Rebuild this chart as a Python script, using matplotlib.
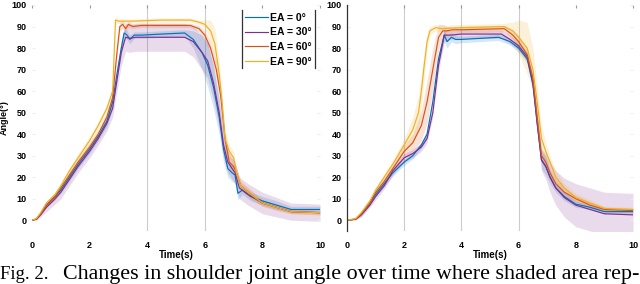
import matplotlib
matplotlib.use("Agg")
import matplotlib.pyplot as plt
import numpy as np

plt.rcParams['font.family'] = ['Liberation Sans', 'DejaVu Sans']

labels = ["EA = 0°", "EA = 30°", "EA = 60°", "EA = 90°"]
colors = ["#0072BD", "#7E2F8E", "#D95319", "#EDB120"]

# ---- left panel ----
l0_t = [0, 0.15, 0.3, 0.5, 0.8, 1.0, 1.3, 1.6, 2.0, 2.3, 2.6, 2.8, 2.95, 3.1, 3.2, 3.3, 3.4, 3.55, 3.8, 4.5, 5.3, 5.6, 5.9, 6.1, 6.3, 6.5, 6.65, 6.8, 6.95, 7.05, 7.15, 7.3, 7.6, 8.0, 8.5, 9.0, 10]
l0_v = [0, 0.5, 3, 7, 11, 14, 20, 26, 33, 39, 46, 55, 68, 80, 87, 86, 84, 86, 86, 86.5, 87, 84, 78, 72, 62, 48, 33, 24, 22, 21, 12.5, 14, 11, 9, 7, 5, 5]
l0_s = [0, 0.3, 0.5, 1, 1.5, 1.5, 2, 2, 2, 2, 2.5, 3, 3, 3, 2, 2, 2, 1.5, 1.5, 1.5, 1.5, 4, 8, 10, 10, 8, 6, 4, 4, 4, 3, 2, 2, 2, 2, 1.5, 1.5]

l1_t = [0, 0.15, 0.3, 0.5, 0.8, 1.0, 1.3, 1.6, 2.0, 2.3, 2.6, 2.8, 2.95, 3.1, 3.25, 3.4, 3.6, 4.5, 5.3, 5.6, 5.9, 6.1, 6.3, 6.5, 6.65, 6.8, 6.95, 7.05, 7.2, 7.5, 8.0, 8.5, 9.0, 10]
l1_v = [0, 0.5, 2.5, 6, 10, 13, 19, 25, 32, 38, 45, 52, 65, 78, 85, 84.5, 85, 85, 85, 83, 78, 74, 64, 50, 35, 27, 24, 22, 15, 12, 8, 6, 4, 3.5]
l1_s = [0, 0.5, 1, 2, 2.5, 3, 3, 3, 3, 3, 3.5, 4, 5, 6, 6.5, 6.5, 6.5, 6.5, 6.5, 7, 8, 8, 8, 7, 6, 5, 5, 5, 5, 5, 5, 4.5, 4, 4]

l2_t = [0, 0.15, 0.3, 0.5, 0.8, 1.0, 1.3, 1.6, 2.0, 2.3, 2.6, 2.8, 2.95, 3.05, 3.15, 3.25, 3.35, 3.5, 3.8, 4.5, 5.5, 5.8, 6.0, 6.2, 6.4, 6.55, 6.7, 6.85, 7.0, 7.1, 7.25, 7.6, 8.0, 8.5, 9.0, 10]
l2_v = [0, 0.5, 3, 7, 11, 15, 21, 27, 34, 40, 48, 57, 78, 90, 91, 89, 91, 90, 90.5, 90.5, 90.5, 89, 86, 80, 70, 58, 38, 27, 25, 22, 16, 12, 8, 6, 4, 3.5]
l2_s = [0, 0.3, 0.5, 1, 1.5, 1.5, 2, 2, 2, 2, 2, 2, 2, 2, 2, 2, 1.5, 1, 1, 1, 1, 1.5, 2, 3, 4, 4, 4, 3, 3, 3, 2, 2, 1.5, 1.5, 1, 1]

l3_t = [0, 0.15, 0.3, 0.5, 0.8, 1.0, 1.3, 1.6, 2.0, 2.3, 2.6, 2.8, 2.9, 3.0, 3.5, 4.5, 5.5, 5.8, 6.0, 6.2, 6.35, 6.5, 6.6, 6.7, 6.85, 7.0, 7.1, 7.25, 7.6, 8.0, 8.5, 9.0, 10]
l3_v = [0, 0.8, 3.5, 8, 12, 16, 23, 29, 37, 44, 52, 60, 93, 92.5, 92.5, 93, 93, 92, 91, 88, 82, 68, 55, 38, 32, 29, 22, 16, 12, 8, 6, 4, 3.5]
l3_s = [0, 0.5, 0.5, 1, 1, 1.5, 1.5, 2, 2, 2, 2, 2, 2, 1, 1, 1, 1, 1, 2, 5, 7, 6, 4, 3, 3, 3, 2, 2, 2, 1.5, 1, 1, 1]

# ---- right panel ----
r0_t = [0, 0.3, 0.5, 0.8, 1.0, 1.3, 1.6, 2.0, 2.3, 2.6, 2.8, 3.0, 3.2, 3.4, 3.5, 3.65, 3.8, 4.0, 5.3, 5.7, 6.0, 6.3, 6.5, 6.65, 6.8, 6.95, 7.1, 7.3, 7.6, 8.0, 8.5, 9.0, 10]
r0_v = [0, 0.5, 3, 8, 12, 17, 22, 27, 30, 35, 40, 55, 75, 86, 83, 85, 84, 84, 85, 83, 80, 75, 63, 45, 28, 25, 20, 15, 11, 7.5, 6, 4, 4]
r0_s = [0, 0.3, 1, 1, 1, 1.5, 1.5, 1.5, 1.5, 1.5, 2, 2, 3, 3, 3, 2, 2, 1.5, 1.5, 1.5, 2, 2, 3, 3, 4, 4, 3, 2, 2, 1.5, 1, 1, 1]

r1_t = [0, 0.3, 0.5, 0.8, 1.0, 1.3, 1.6, 2.0, 2.3, 2.6, 2.8, 3.0, 3.2, 3.4, 3.6, 4.0, 5.4, 5.7, 6.0, 6.3, 6.5, 6.65, 6.8, 6.95, 7.1, 7.3, 7.6, 8.0, 8.5, 9.0, 10]
r1_v = [0, 0.5, 2.5, 7, 11, 16, 23, 29, 31, 34, 38, 50, 72, 86, 86, 86.5, 86.5, 84, 81, 76, 64, 45, 28, 25, 20, 15, 10.5, 7, 5, 3, 2.5]
r1_s = [0, 0.3, 1, 1, 1.5, 1.5, 2, 2, 2, 2, 2, 2, 3, 3, 2, 2, 2, 2, 2, 2, 3, 4, 5, 6, 7, 8, 9, 10, 10, 10, 10]

r2_t = [0, 0.3, 0.5, 0.8, 1.0, 1.3, 1.6, 2.0, 2.3, 2.6, 2.8, 3.0, 3.2, 3.35, 3.5, 3.7, 4.0, 5.5, 5.8, 6.0, 6.3, 6.5, 6.65, 6.8, 6.95, 7.1, 7.3, 7.6, 8.0, 8.5, 9.0, 10]
r2_v = [0, 0.5, 3, 8, 13, 18, 24, 32, 36, 44, 55, 70, 85, 88, 88, 88.5, 88.5, 89, 86, 83, 77, 66, 48, 30, 27, 22, 17, 13, 10, 7, 5, 4.5]
r2_s = [0, 0.3, 1, 1, 1.5, 2, 2, 3, 4, 7, 10, 10, 6, 3, 2, 1.5, 1.5, 1.5, 2, 3, 3, 3, 3, 3, 3, 2, 2, 2, 1.5, 1.5, 1, 1]

r3_t = [0, 0.3, 0.5, 0.8, 1.0, 1.3, 1.6, 2.0, 2.3, 2.5, 2.6, 2.7, 2.8, 2.9, 3.1, 3.3, 4.0, 5.5, 5.8, 6.0, 6.3, 6.5, 6.65, 6.8, 6.95, 7.1, 7.3, 7.6, 8.0, 8.5, 9.0, 10]
r3_v = [0, 0.8, 3.5, 9, 14, 20, 26, 35, 42, 50, 60, 72, 83, 88, 89.5, 89, 89.5, 90, 88, 85, 80, 70, 55, 38, 32, 27, 20, 15, 10.5, 8, 5.5, 5]
r3_s = [0, 0.5, 1, 1, 1.5, 2, 2, 3, 6, 8, 8, 6, 4, 2, 1.5, 1.5, 1.5, 1.5, 4, 8, 12, 10, 8, 6, 4, 3, 3, 2, 2, 1.5, 1, 1]

left_series = [(l0_t, l0_v, l0_s), (l1_t, l1_v, l1_s), (l2_t, l2_v, l2_s), (l3_t, l3_v, l3_s)]
right_series = [(r0_t, r0_v, r0_s), (r1_t, r1_v, r1_s), (r2_t, r2_v, r2_s), (r3_t, r3_v, r3_s)]
left_vlines = [4, 6]
right_vlines = [2, 4, 6]

fig = plt.figure(figsize=(6.4, 2.84), dpi=100)
bottom = 1 - 231 / 284
height = 226 / 284
ax1 = fig.add_axes([32 / 640, bottom, 288 / 640, height])
ax2 = fig.add_axes([347 / 640, bottom, 286 / 640, height])


def draw(ax, series, vlines):
    for x in vlines:
        ax.axvline(x, color="#cccccc", lw=0.8, zorder=0)
    for (t, v, s), c, lab in zip(series, colors, labels):
        t = np.array(t)
        v = np.array(v)
        s = np.array(s)
        ax.fill_between(t, v - s, v + s, color=c, alpha=0.17, lw=0)
        ax.plot(t, v, color=c, lw=0.85, label=lab)
    ax.set_xlim(0, 10)
    ax.set_ylim(-5, 100)
    ax.set_xticks(range(0, 11, 2))
    ax.set_yticks(range(0, 101, 10))
    for sp in ax.spines.values():
        sp.set_visible(False)
    ax.tick_params(axis='x', bottom=False, top=True, direction='in', length=2.5,
                   color="#999999", labelsize=6.5, pad=7)
    ax.tick_params(axis='y', left=True, right=True, direction='in', length=2,
                   color="#eeeeee", labelsize=6.5, pad=4)
    for lb in ax.get_xticklabels() + ax.get_yticklabels():
        lb.set_fontweight('bold')
    ax.set_xlabel("Time(s)", fontsize=7, fontweight='bold', labelpad=0)


draw(ax1, left_series, left_vlines)
draw(ax2, right_series, right_vlines)
ax2.spines['left'].set_visible(True)
ax2.spines['left'].set_color("#333333")
ax2.spines['left'].set_linewidth(0.9)
ax1.set_ylabel("Angle(°)", fontsize=6.5, fontweight='bold', labelpad=2)

leg = ax1.legend(loc='upper right', bbox_to_anchor=(0.985, 0.985), frameon=False,
                 prop={'size': 7.5, 'weight': 'bold'}, handlelength=2.2,
                 handletextpad=0.2, labelspacing=0.45, borderaxespad=0)
for x in (0.729, 0.983):
    ax1.plot([x, x], [0.72, 0.978], transform=ax1.transAxes, color="#333333",
             lw=0.9, clip_on=False)

# caption (the reference crop cuts it at the bottom; keep it just inside here)
cap_y = 1 - 279 / 284
fig.text(0.0, cap_y, "Fig. 2.", family='Liberation Serif', fontsize=13.5, va='baseline')
fig.text(63 / 640, cap_y, "Changes in shoulder joint angle over time where shaded area rep-",
         family='Liberation Serif', fontsize=15.8, va='baseline')

fig.savefig("out.png", dpi=100)
